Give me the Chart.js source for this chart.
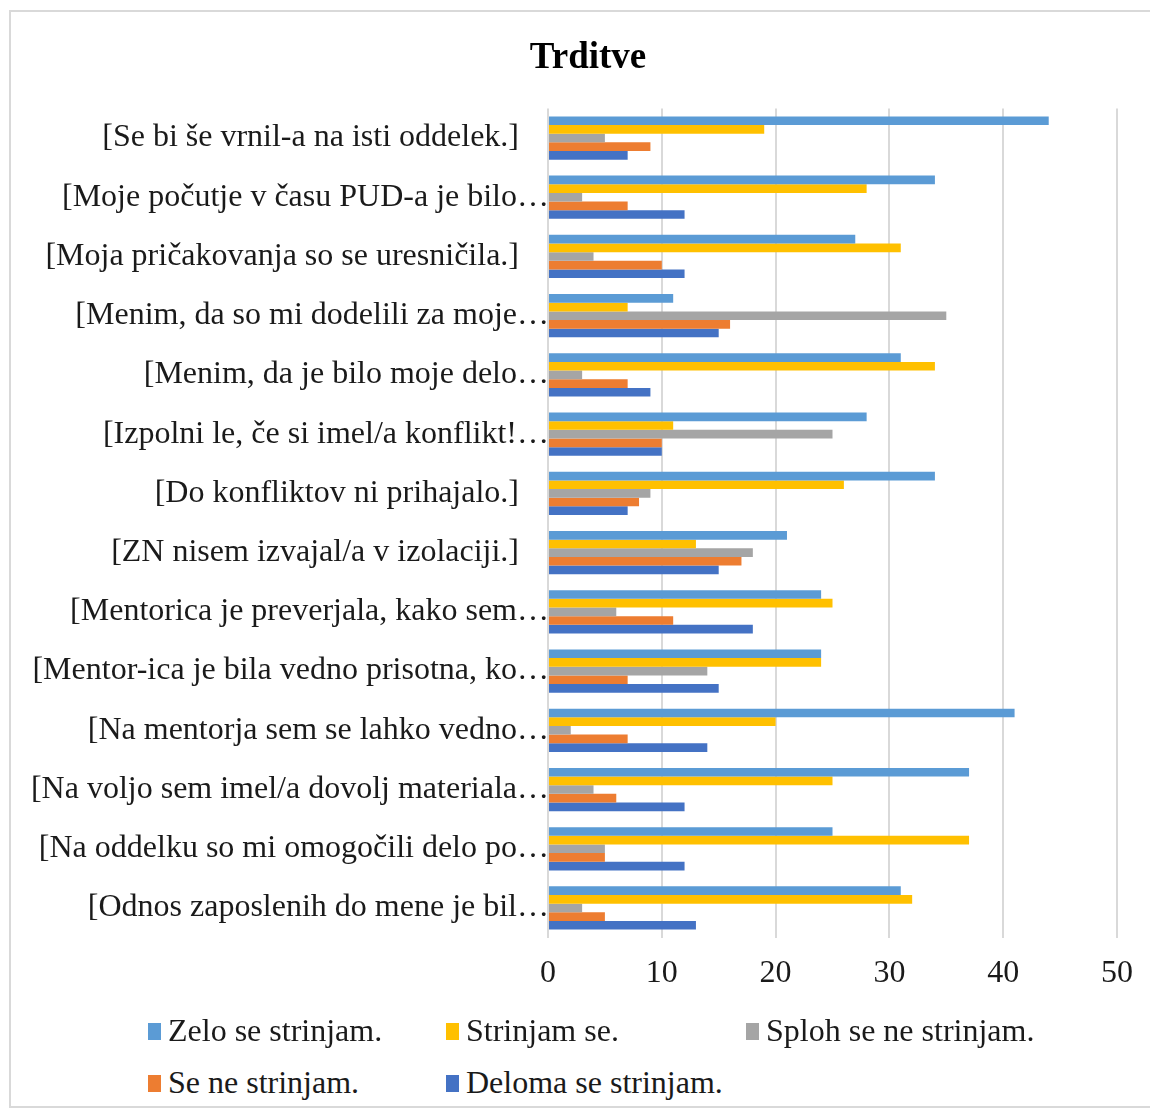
<!DOCTYPE html>
<html>
<head>
<meta charset="utf-8">
<script src="https://cdn.jsdelivr.net/npm/chart.js@4"></script>
<style>
  html, body { margin: 0; padding: 0; background: #fff; overflow: hidden; }
  #frame {
    position: absolute; left: 9px; top: 10px; width: 1160px; height: 1098px;
    border: 2px solid #d9d9d9; box-sizing: border-box;
  }
  #chart { position: absolute; left: 0; top: 0; }
  .legend-box { position: absolute; width: 13px; height: 17px; }
  .legend-text {
    position: absolute; height: 40px; line-height: 40px; white-space: nowrap;
    font-family: "Liberation Serif", "Times New Roman", serif; font-size: 32px; color: #1a1a1a;
  }
</style>
</head>
<body>
<div id="frame"></div>
<canvas id="chart" width="1150" height="1016"></canvas>
<div id="legend"></div>
<script>
const categories = [
  "[Se bi še vrnil-a na isti oddelek.]",
  "[Moje počutje v času PUD-a je bilo…",
  "[Moja pričakovanja so se uresničila.]",
  "[Menim, da so mi dodelili za moje…",
  "[Menim, da je bilo moje delo…",
  "[Izpolni le, če si imel/a konflikt!…",
  "[Do konfliktov ni prihajalo.]",
  "[ZN nisem izvajal/a v izolaciji.]",
  "[Mentorica je preverjala, kako sem…",
  "[Mentor-ica je bila vedno prisotna, ko…",
  "[Na mentorja sem se lahko vedno…",
  "[Na voljo sem imel/a dovolj materiala…",
  "[Na oddelku so mi omogočili delo po…",
  "[Odnos zaposlenih do mene je bil…"
];

const seriesNames = ["Zelo se strinjam.", "Strinjam se.", "Sploh se ne strinjam.", "Se ne strinjam.", "Deloma se strinjam."];
const seriesColors = ["#5B9BD5", "#FFC000", "#A5A5A5", "#ED7D31", "#4472C4"];

const zeloSeStrinjam   = [44, 34, 27, 11, 31, 28, 34, 21, 24, 24, 41, 37, 25, 31];
const strinjamSe       = [19, 28, 31, 7, 34, 11, 26, 13, 25, 24, 20, 25, 37, 32];
const splohSeNe        = [5, 3, 4, 35, 3, 25, 9, 18, 6, 14, 2, 4, 5, 3];
const seNeStrinjam     = [9, 7, 10, 16, 7, 10, 8, 17, 11, 7, 7, 6, 5, 5];
const delomaSeStrinjam = [7, 12, 12, 15, 9, 10, 7, 15, 18, 15, 14, 12, 12, 13];

const xTicks = [0, 10, 20, 30, 40, 50];

const seriesValues = [zeloSeStrinjam, strinjamSe, splohSeNe, seNeStrinjam, delomaSeStrinjam];
const FONT = '"Liberation Serif", "Times New Roman", serif';

// y labels are drawn by hand so the truncated ones can run up to the axis like in Excel
const yLabelPlugin = {
  id: 'yLabels',
  afterDraw(chart) {
    const ctx = chart.ctx;
    const scale = chart.scales.y;
    const left = chart.chartArea.left;
    ctx.save();
    ctx.font = `32px ${FONT}`;
    ctx.fillStyle = '#1a1a1a';
    ctx.textAlign = 'right';
    ctx.textBaseline = 'middle';
    categories.forEach((label, i) => {
      const y = scale.getPixelForTick(i);
      const x = label.endsWith('…') ? left + 1 : left - 29;
      ctx.fillText(label, x, y);
    });
    ctx.restore();
  }
};

new Chart(document.getElementById('chart'), {
  type: 'bar',
  data: {
    labels: categories,
    datasets: seriesNames.map((name, i) => ({
      label: name,
      data: seriesValues[i],
      backgroundColor: seriesColors[i],
      borderWidth: 0,
      categoryPercentage: 0.73,
      barPercentage: 1.0
    }))
  },
  options: {
    indexAxis: 'y',
    responsive: false,
    animation: false,
    devicePixelRatio: 1,
    layout: { padding: { left: 55, right: 29, top: 10, bottom: 6 } },
    plugins: {
      legend: { display: false },
      tooltip: { enabled: false },
      title: {
        display: true,
        text: 'Trditve',
        color: '#000',
        font: { family: FONT, size: 37, weight: 'bold' },
        padding: { top: 26, bottom: 28 }
      }
    },
    scales: {
      x: {
        min: 0,
        max: 50,
        afterBuildTicks: scale => { scale.ticks = xTicks.map(v => ({ value: v })); },
        ticks: { color: '#1a1a1a', font: { family: FONT, size: 32 }, padding: 17 },
        grid: { color: '#d9d9d9', lineWidth: 2, drawTicks: false },
        border: { display: false }
      },
      y: {
        afterFit: scale => { scale.width = 493; },
        ticks: { display: false },
        grid: { display: false },
        border: { display: false }
      }
    }
  },
  plugins: [yLabelPlugin]
});

// legend, laid out in Excel-style columns
const legendCols = [148, 446, 746];
const legendRows = [1031, 1083];
const legend = document.getElementById('legend');
seriesNames.forEach((name, i) => {
  const col = legendCols[i % 3];
  const row = legendRows[Math.floor(i / 3)];
  const box = document.createElement('div');
  box.className = 'legend-box';
  box.style.left = col + 'px';
  box.style.top = (row - 8) + 'px';
  box.style.background = seriesColors[i];
  const text = document.createElement('div');
  text.className = 'legend-text';
  text.style.left = (col + 20) + 'px';
  text.style.top = (row - 21) + 'px';
  text.textContent = name;
  legend.appendChild(box);
  legend.appendChild(text);
});
</script>
</body>
</html>
